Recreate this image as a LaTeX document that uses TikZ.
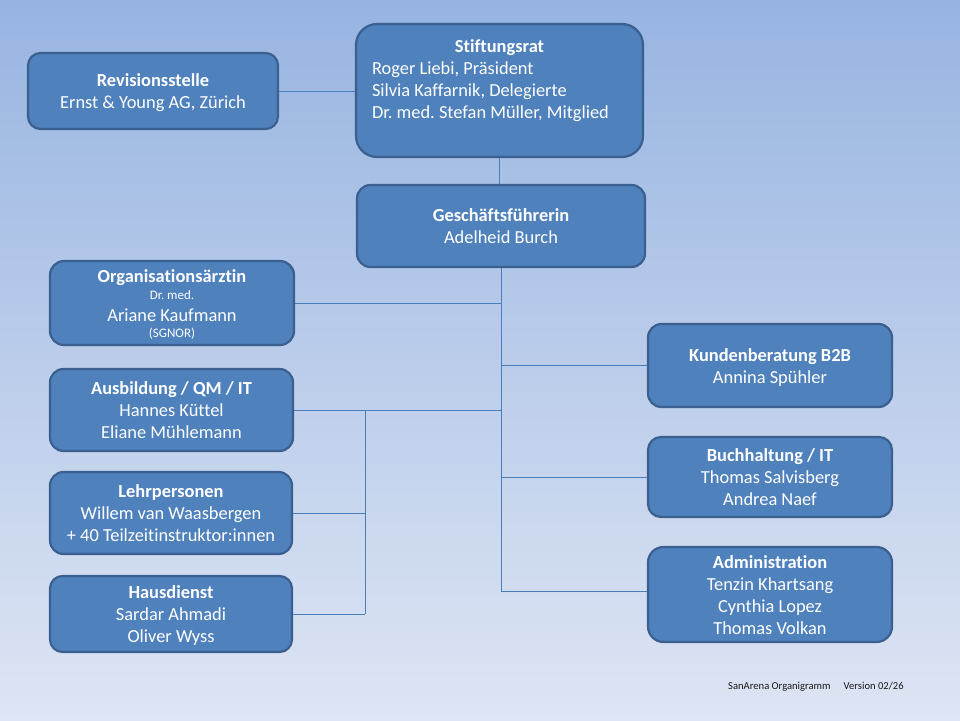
\documentclass[tikz,border=0pt]{standalone}
\usepackage{fontspec}
\setmainfont[Ligatures={NoCommon}]{Carlito}
\frenchspacing
\definecolor{bgtop}{HTML}{97B4E1}
\definecolor{bgbot}{HTML}{DEE5F4}
\definecolor{boxfill}{HTML}{4F81BD}
\definecolor{boxline}{HTML}{3B5F8E}
\definecolor{connc}{HTML}{4A7EBB}
\tikzset{
  orgbox/.style={draw=boxline, line width=2.2pt, fill=boxfill, text=white, inner sep=0pt,
    font=\fontsize{18.4}{22}\selectfont},
  boxtext/.style={inner sep=0pt, text=white, font=\fontsize{18.4}{22}\selectfont},
  connline/.style={draw=connc, line width=1pt},
  footer/.style={inner sep=0pt, text=black!90, font=\fontsize{10.6}{12}\selectfont},
}
\newcommand{\smalltxt}[1]{{\fontsize{13}{15}\selectfont #1}}
\newcommand{\boxlines}[1]{\raisebox{-2.5pt}[\height][\depth]{\begin{tabular}{@{}c@{}}#1\end{tabular}}}
\begin{document}
\begin{tikzpicture}[x=1pt,y=-1pt]
\shade[top color=bgtop, bottom color=bgbot] (0,0) rectangle (960,720);
\useasboundingbox (0,0) rectangle (960,720);

% boxes
\node[orgbox, minimum width=250pt, minimum height=76pt, rounded corners=12.5pt] (rev) at (153,91)
  {\boxlines{\textbf{Revisionsstelle}\\Ernst \& Young AG, Zürich}};
\node[orgbox, minimum width=287pt, minimum height=133pt, rounded corners=21pt] (stift) at (499.5,90.5) {};
\node[boxtext, anchor=north] (stiftt) at (499.5,37.2)
  {\begin{tabular}{@{}p{255pt}@{}}\multicolumn{1}{@{}c@{}}{\textbf{Stiftungsrat}}\\Roger Liebi, Präsident\\Silvia Kaffarnik, Delegierte\\Dr. med. Stefan Müller, Mitglied\end{tabular}};
\node[orgbox, minimum width=288pt, minimum height=82pt, rounded corners=13.5pt] (gf) at (501,226)
  {\boxlines{\textbf{Geschäftsführerin}\\Adelheid Burch}};
\node[orgbox, minimum width=244pt, minimum height=84pt, rounded corners=14pt] (org) at (172,303)
  {\boxlines{\textbf{Organisationsärztin}\\[-4.5pt]\smalltxt{Dr. med.}\\[-0.5pt]Ariane Kaufmann\\[-5.5pt]\smalltxt{(SGNOR)}}};
\node[orgbox, minimum width=243pt, minimum height=82pt, rounded corners=13.5pt] (ausb) at (171.5,410)
  {\boxlines{\textbf{Ausbildung / QM / IT}\\Hannes Küttel\\Eliane Mühlemann}};
\node[orgbox, minimum width=242pt, minimum height=82pt, rounded corners=13.5pt] (lehr) at (171,513)
  {\boxlines{\textbf{Lehrpersonen}\\Willem van Waasbergen\\+ 40 Teilzeitinstruktor:innen}};
\node[orgbox, minimum width=242pt, minimum height=76pt, rounded corners=12.5pt] (haus) at (171,614)
  {\boxlines{\textbf{Hausdienst}\\Sardar Ahmadi\\Oliver Wyss}};
\node[orgbox, minimum width=244pt, minimum height=83pt, rounded corners=13.5pt] (kund) at (770,365.5)
  {\boxlines{\textbf{Kundenberatung B2B}\\Annina Spühler}};
\node[orgbox, minimum width=244pt, minimum height=80pt, rounded corners=13pt] (buch) at (770,477)
  {\boxlines{\textbf{Buchhaltung / IT}\\Thomas Salvisberg\\Andrea Naef}};
\node[orgbox, minimum width=244pt, minimum height=95pt, rounded corners=15.5pt] (admin) at (770,594.5)
  {\boxlines{\textbf{Administration}\\Tenzin Khartsang\\Cynthia Lopez\\Thomas Volkan}};

% connectors
\coordinate (sv) at (365,410);
\draw[connline] (rev.east) -- (rev.east -| stift.west);
\draw[connline] (stift.south) -- (stift.south |- gf.north);
\draw[connline] (gf.south) -- ([yshift=3.5pt]admin.west -| gf.south);
\draw[connline] (org.east) -- (org.east -| gf.south);
\draw[connline] (ausb.east) -- (ausb.east -| gf.south);
\draw[connline] (sv) -- (sv |- haus.east);
\draw[connline] (lehr.east) -- (lehr.east -| sv);
\draw[connline] (haus.east) -- (haus.east -| sv);
\draw[connline] (kund.west) -- (kund.west -| gf.south);
\draw[connline] (buch.west) -- (buch.west -| gf.south);
\draw[connline] ([yshift=3.5pt]admin.west) -- ([yshift=3.5pt]admin.west -| gf.south);

% footer
\node[footer, anchor=base west] (foot) at (728,689.5) {SanArena Organigramm\hspace{13pt}Version 02/26};
\end{tikzpicture}
\end{document}
